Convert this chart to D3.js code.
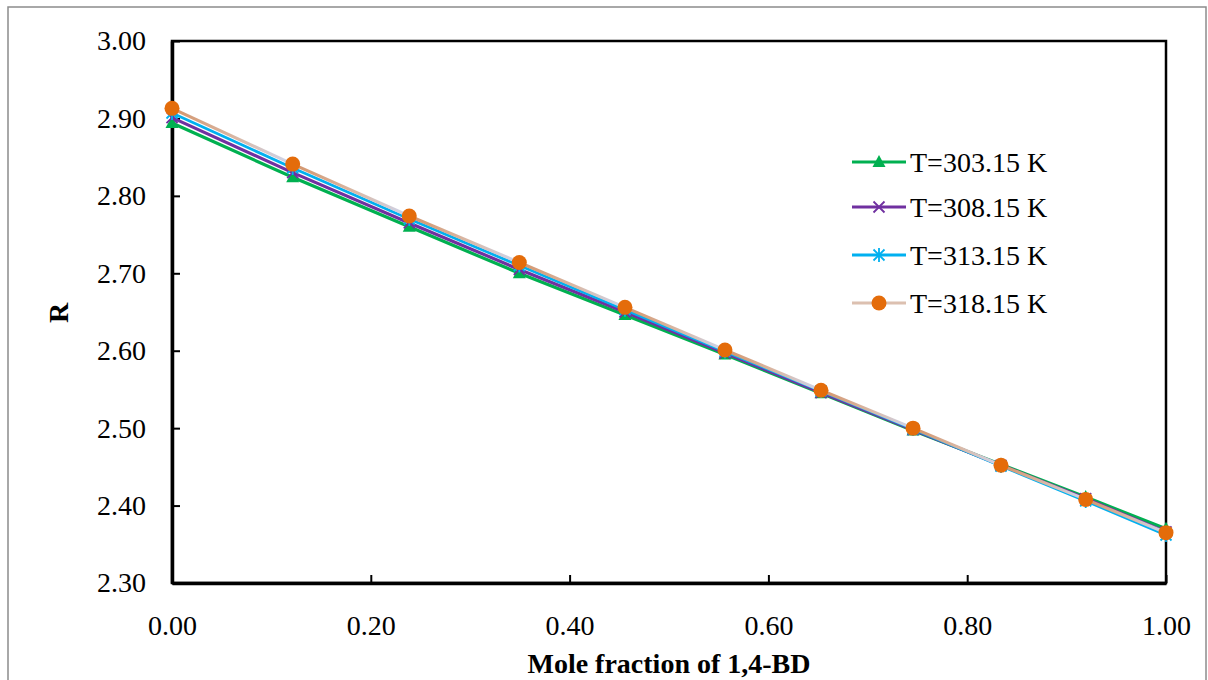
<!DOCTYPE html>
<html>
<head>
<meta charset="utf-8">
<script src="https://cdn.jsdelivr.net/npm/d3@7"></script>
<style>
  body { margin: 0; background: #fff; }
  svg text { font-family: "Times New Roman", "Liberation Serif", "DejaVu Serif", serif !important; fill: #000; }
</style>
</head>
<body>
<svg id="chart" width="1208" height="680"></svg>
<script>
// mole fraction of 1,4-BD
const xFrac = [0, 0.1214, 0.2387, 0.3494, 0.4557, 0.5563, 0.6529, 0.7455, 0.8340, 0.9192, 1.0]

const r303 = [2.894, 2.824, 2.760, 2.700, 2.646, 2.595, 2.545, 2.497, 2.453, 2.411, 2.370]
const r308 = [2.901, 2.830, 2.765, 2.705, 2.650, 2.597, 2.546, 2.498, 2.452, 2.409, 2.366]
const r313 = [2.907, 2.836, 2.770, 2.710, 2.653, 2.599, 2.548, 2.499, 2.451, 2.406, 2.362]
const r318 = [2.913, 2.841, 2.774, 2.714, 2.656, 2.601, 2.549, 2.500, 2.452, 2.408, 2.365]

const seriesNames = ["T=303.15 K", "T=308.15 K", "T=313.15 K", "T=318.15 K"]
const xTicks = [0, 0.2, 0.4, 0.6, 0.8, 1.0]
const yTicks = [2.3, 2.4, 2.5, 2.6, 2.7, 2.8, 2.9, 3.0]

const FONT = 28
const svg = d3.select("#chart")

// outer chart border
svg.append("rect")
    .attr("x", 8).attr("y", 7)
    .attr("width", 1198).attr("height", 690)
    .attr("fill", "none")
    .attr("stroke", "#8c8c8c")
    .attr("stroke-width", 1.5)

const x = d3.scaleLinear().domain([0, 1]).range([172, 1166])
const y = d3.scaleLinear().domain([2.3, 3.0]).range([583, 41])

// plot frame
svg.append("rect")
    .attr("x", x(0)).attr("y", y(3.0))
    .attr("width", x(1) - x(0)).attr("height", y(2.3) - y(3.0))
    .attr("fill", "none")
    .attr("stroke", "#000")
    .attr("stroke-width", 2.5)

const xAxis = svg.append("g")
    .attr("transform", `translate(0,${y(2.3)})`)
    .call(d3.axisBottom(x).tickValues(xTicks).tickFormat(d3.format(".2f")).tickSizeInner(-8).tickSizeOuter(0).tickPadding(32))
xAxis.attr("font-family", null)
xAxis.select(".domain").attr("stroke-width", 3.5)
xAxis.selectAll(".tick line").attr("stroke-width", 2)
xAxis.selectAll("text").attr("font-size", FONT)

const yAxis = svg.append("g")
    .attr("transform", `translate(${x(0)},0)`)
    .call(d3.axisLeft(y).tickValues(yTicks).tickFormat(d3.format(".2f")).tickSizeInner(-8).tickSizeOuter(0).tickPadding(26))
yAxis.attr("font-family", null)
yAxis.select(".domain").attr("stroke-width", 3.5)
yAxis.selectAll(".tick line").attr("stroke-width", 2)
yAxis.selectAll("text").attr("font-size", FONT)

svg.append("text")
    .attr("x", 669).attr("y", 673)
    .attr("text-anchor", "middle")
    .attr("font-size", FONT).attr("font-weight", "bold")
    .text("Mole fraction of 1,4-BD")

svg.append("text")
    .attr("transform", "translate(68,313) rotate(-90)")
    .attr("text-anchor", "middle")
    .attr("font-size", FONT).attr("font-weight", "bold")
    .text("R")

// gradient for the 318.15 K line (tan fading to pale blue)
const defs = svg.append("defs")
const grad = defs.append("linearGradient").attr("id", "tanGrad")
    .attr("x1", 0).attr("y1", 0).attr("x2", 1).attr("y2", 0)
grad.append("stop").attr("offset", "0%").attr("stop-color", "#d4946a")
grad.append("stop").attr("offset", "55%").attr("stop-color", "#d9b9a8")
grad.append("stop").attr("offset", "100%").attr("stop-color", "#cdd6ef")

const series = [
  { name: seriesNames[0], vals: r303, color: "#00b050", width: 3.2, marker: "tri" },
  { name: seriesNames[1], vals: r308, color: "#7030a0", width: 3.2, marker: "x" },
  { name: seriesNames[2], vals: r313, color: "#00b0f0", width: 2.8, marker: "star" },
  { name: seriesNames[3], vals: r318, color: "#e46c0a", width: 3.2, marker: "circle" }
]

function drawMarker(g, type, color) {
  if (type == "tri") {
    g.append("path").attr("d", "M0,-7 L6.5,5 L-6.5,5 Z").attr("fill", color)
  } else if (type == "x") {
    g.append("path").attr("d", "M-5.5,-5.5 L5.5,5.5 M-5.5,5.5 L5.5,-5.5")
      .attr("stroke", color).attr("stroke-width", 1.8).attr("fill", "none")
  } else if (type == "star") {
    g.append("path").attr("d", "M-5.5,-5.5 L5.5,5.5 M-5.5,5.5 L5.5,-5.5 M0,-7 L0,7")
      .attr("stroke", color).attr("stroke-width", 1.8).attr("fill", "none")
  } else {
    g.append("circle").attr("r", 7.5).attr("fill", color)
  }
}

const line = d3.line().x((d, i) => x(xFrac[i])).y(d => y(d))

series.forEach(s => {
  const g = svg.append("g")
  if (s.marker == "circle") {
    // gradient per segment
    for (let i = 0; i < s.vals.length - 1; i++) {
      g.append("line")
          .attr("x1", x(xFrac[i])).attr("y1", y(s.vals[i]))
          .attr("x2", x(xFrac[i + 1])).attr("y2", y(s.vals[i + 1]))
          .attr("stroke", "url(#tanGrad)")
          .attr("stroke-width", s.width)
    }
  } else {
    g.append("path")
        .datum(s.vals)
        .attr("d", line)
        .attr("fill", "none")
        .attr("stroke", s.color)
        .attr("stroke-width", s.width)
  }
  s.vals.forEach((v, i) => {
    drawMarker(g.append("g").attr("transform", `translate(${x(xFrac[i])},${y(v)})`), s.marker, s.color)
  })
})

// legend
const legendY = [162, 207, 255, 303]
series.forEach((s, i) => {
  const lg = svg.append("g").attr("transform", `translate(0,${legendY[i]})`)
  lg.append("line")
      .attr("x1", 852).attr("x2", 906)
      .attr("stroke", s.marker == "circle" ? "#dcc0b0" : s.color)
      .attr("stroke-width", s.width)
  drawMarker(lg.append("g").attr("transform", "translate(879,0)"), s.marker, s.color)
  lg.append("text")
      .attr("x", 910).attr("y", 0)
      .attr("dy", "0.35em")
      .attr("font-size", FONT)
      .text(s.name)
})
</script>
</body>
</html>
